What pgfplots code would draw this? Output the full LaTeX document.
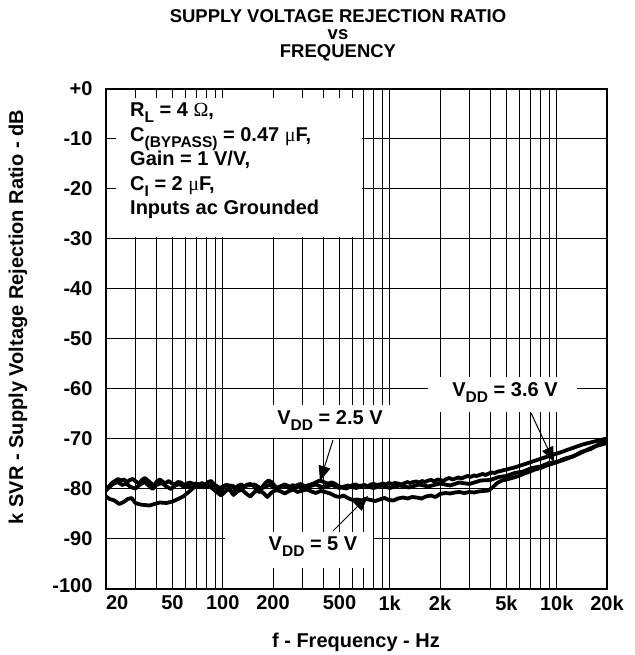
\documentclass[border=0pt]{standalone}
\usepackage{fontspec}
\setmainfont{Liberation Sans}
\newfontfamily\symserif{Liberation Serif}
\usepackage{pgfplots}
\pgfplotsset{compat=1.18}
\usetikzlibrary{arrows.meta}
\newcommand\sub[1]{\raisebox{-0.3em}{\fontsize{15.5}{15.5}\selectfont\bfseries #1}}
\newcommand\bigfont{\fontsize{20}{24.5}\selectfont\bfseries}
\newcommand\titlefont{\fontsize{18.5}{20}\selectfont\bfseries}
\begin{document}
\begin{tikzpicture}[x=1pt,y=1pt]
\begin{axis}[
  at={(106pt,66pt)}, anchor=south west,
  scale only axis, width=501pt, height=500pt,
  xmode=log, xmin=20, xmax=20000, ymin=-100, ymax=0,
  xtick={20,50,100,200,500,1000,2000,5000,10000,20000},
  xticklabels={\hphantom{20}20,50,100,200,500,1k,2k,5k,10k,20k},
  minor xtick={30,40,60,70,80,90,300,400,600,700,800,900,3000,4000,6000,7000,8000,9000},
  ytick={-100,-90,-80,-70,-60,-50,-40,-30,-20,-10,0},
  yticklabels={\raisebox{6pt}{-100},-90,-80,-70,-60,-50,-40,-30,-20,-10,\raisebox{-7pt}{+0}},
  grid=both,
  major grid style={black, line width=1pt},
  minor grid style={black, line width=1pt},
  tick align=inside, major tick length=10pt, minor tick length=10pt,
  tick style={black, line width=1pt},
  axis line style={line width=2.2pt},
  ticklabel style={font=\bigfont},
  yticklabel style={xshift=-10pt},
  xticklabel style={yshift=-3pt},
]
% curve A
\addplot[black, line width=3.8pt, line join=round] coordinates {
(20,-81.5) (21,-82) (22.5,-82.3) (24,-83) (25.5,-82.6) (27,-82) (28.5,-81.8) (30,-82.8) (32,-83.1) (34,-83.2) (36.5,-83.3) (39,-83) (42,-82.7) (46,-82.8) (50,-82.5) (54,-82) (58,-81.5) (63,-80.5) (68,-79.5) (73,-79.2) (80,-79.6) (88,-79) (96,-79.8) (105,-79.2) (115,-79.4) (125,-80) (140,-79.3) (155,-79.1) (170,-79.9) (190,-79.2) (210,-79.8) (235,-79.1) (260,-79.7) (290,-79.0) (320,-79.6) (360,-79.1) (400,-79.7) (450,-79.2) (500,-79.8) (560,-79.3) (630,-79.8) (700,-79.3) (800,-79.8) (900,-79.3) (1000,-79.8) (1150,-79.3) (1300,-79.7) (1500,-79.1) (1700,-79.5) (2000,-78.9) (2300,-79.3) (2600,-78.7) (3000,-79.0) (3500,-78.3) (4000,-78.2) (4500,-77.6) (5000,-77.4) (5600,-76.8) (6300,-76.5) (7100,-75.8) (8000,-75.5) (9000,-74.8) (10000,-74.6) (11200,-73.9) (12500,-73.5) (14000,-72.6) (16000,-72.0) (18000,-71) (20000,-70.5)
};
% curve B
\addplot[black, line width=3.8pt, line join=round] coordinates {
(20,-80) (20.8,-79.5) (21.7,-78.8) (22.6,-78.4) (23.6,-78) (24.6,-78.3) (25.6,-78.1) (26.7,-78.6) (27.8,-78.2) (29,-78) (30.2,-78.5) (31.5,-78.9) (32.8,-78.2) (34.2,-77.8) (35.6,-78.3) (37.1,-78.8) (38.7,-79.4) (40.3,-78.5) (42,-78.1) (43.8,-78.6) (45.7,-78.8) (47.6,-78.4) (49.6,-78.9) (51.7,-79.1) (53.9,-78.6) (56.2,-78.7) (58.6,-79.2) (61.1,-78.9) (63.7,-78.7) (66.4,-79) (69.2,-78.9) (72.1,-79.1) (75.2,-78.8) (78.4,-79.2) (81.7,-78.6) (85.2,-78.4) (88.8,-79.1) (92.6,-80.1) (96.5,-80.9) (100.6,-79.6) (104.9,-79.2) (109.3,-79.7) (114,-80.9) (118.8,-80.2) (123.9,-79.3) (129.1,-79.1) (134.6,-79.5) (140.3,-79.1) (146.3,-79) (152.5,-79.3) (159,-80.2) (165.7,-80.6) (172.7,-79.6) (180,-78.8) (187.7,-78.3) (195.7,-78.6) (204,-79.3) (212.6,-79.9) (221.7,-79.5) (231,-79.3) (240.9,-79.6) (251,-79.8) (262,-79.2) (273,-79.5) (284,-79.4) (296,-79.8) (309,-79.5) (322,-79.3) (336,-79.1) (350,-78.9) (365,-78.6) (380,-78.3) (396,-78.5) (413,-78.8) (430,-78.9) (448,-78.7) (467,-78.9) (487,-79.3) (508,-79.6) (530,-79.8) (552,-79.9) (575,-79.5) (600,-79.2) (625,-79.1) (652,-79.4) (680,-79.3) (708,-79.2) (738,-79.5) (770,-79.1) (802,-79) (836,-79.2) (872,-79.1) (909,-78.9) (948,-79.1) (988,-78.8) (1030,-79) (1074,-78.8) (1120,-78.9) (1168,-79.1) (1217,-78.9) (1269,-78.6) (1323,-78.8) (1380,-78.6) (1439,-78.5) (1500,-78.7) (1564,-78.4) (1630,-78.6) (1700,-78.3) (1773,-78.2) (1848,-78.5) (1927,-78.1) (2009,-78.2) (2095,-78.4) (2184,-78) (2277,-77.8) (2374,-78.1) (2475,-77.9) (2581,-77.7) (2691,-77.9) (2805,-77.6) (2925,-77.4) (3049,-77.6) (3179,-77.3) (3315,-77.4) (3456,-77.2) (3603,-77) (3757,-77.2) (3917,-76.9) (4084,-76.7) (4258,-76.8) (4440,-76.5) (4629,-76.4) (4826,-76.2) (5032,-76.1) (5246,-75.9) (5470,-75.8) (5703,-75.6) (5946,-75.4) (6199,-75.2) (6463,-75) (6739,-74.8) (7026,-74.6) (7325,-74.4) (7637,-74.2) (7963,-74) (8302,-73.8) (8656,-73.6) (9025,-73.4) (9409,-73.2) (9810,-73) (10500,-72.7) (11300,-72.3) (12200,-71.9) (13200,-71.5) (14300,-71.1) (15500,-70.8) (16800,-70.5) (18300,-70.2) (20000,-69.9)
};
% curve C
\addplot[black, line width=3.8pt, line join=round] coordinates {
(20,-80.3) (21,-79.6) (22,-79) (23.5,-78.6) (25,-79.2) (26.5,-78.9) (28,-79.6) (30,-79.9) (32,-79.1) (34,-78.6) (36,-79.3) (38,-80) (40,-79.2) (43,-78.8) (46,-79.5) (49,-80) (52,-79.3) (55,-79) (58,-79.5) (62,-79.4) (66,-79.8) (70,-79.3) (75,-79.6) (80,-79.2) (86,-79.8) (92,-80.6) (98,-81.3) (104,-80.4) (110,-80) (116,-81.2) (122,-80.5) (130,-80.1) (138,-80.9) (146,-81.5) (155,-80.6) (165,-80.2) (175,-80.8) (185,-81.6) (196,-80.7) (208,-80.2) (220,-80.4) (235,-80.9) (250,-80.4) (265,-80.1) (280,-80.6) (300,-80.3) (320,-80.1) (340,-80.5) (360,-80.8) (385,-80.4) (410,-80.6) (440,-80.9) (470,-81.4) (500,-81.6) (530,-81.3) (560,-81.8) (600,-82.2) (640,-82.1) (680,-82.3) (720,-82) (770,-82.2) (820,-82.4) (870,-82.1) (930,-81.8) (990,-82.2) (1050,-82.3) (1120,-81.9) (1200,-81.7) (1280,-81.9) (1360,-81.6) (1450,-81.7) (1550,-81.9) (1650,-81.5) (1760,-81.3) (1880,-81.6) (2000,-81) (2150,-80.8) (2300,-80.9) (2450,-80.7) (2600,-80.6) (2800,-80.8) (3000,-80.6) (3200,-80.7) (3400,-80.5) (3650,-80.4) (3900,-80.3) (4150,-79.6) (4400,-78.8) (4700,-78.3) (5000,-78.1) (5400,-77.8) (5800,-77.5) (6300,-77) (6800,-76.6) (7400,-76.1) (8000,-75.8) (8700,-75.3) (9500,-74.9) (10300,-74.5) (11200,-74.1) (12200,-73.6) (13300,-73.1) (14500,-72.5) (15800,-71.9) (17200,-71.4) (18600,-71.1) (20000,-70.8)
};
\end{axis}
% conditions box
\fill[white] (116,418) rectangle (362,557);
\node[anchor=west, align=left, inner sep=0pt, font=\bigfont] at (130,494)
 {R\sub{L} = 4 {\symserif\mdseries Ω},\\
  C\sub{(BYPASS)} = 0.47 {\symserif\mdseries μ}F,\\
  Gain = 1 V/V,\\
  C\sub{I} = 2 {\symserif\mdseries μ}F,\\
  Inputs ac Grounded};
% VDD labels
\fill[white] (228,217) rectangle (392,250);
\node[font=\bigfont, inner sep=0pt] at (330,234) {V\sub{DD} = 2.5 V};
\fill[white] (428,243) rectangle (577,278);
\node[font=\bigfont, inner sep=0pt] at (505,262) {V\sub{DD} = 3.6 V};
\fill[white] (225,87) rectangle (373,123);
\node[font=\bigfont, inner sep=0pt] at (313,108) {V\sub{DD} = 5 V};
\draw[line width=1pt, -{Triangle[length=15pt,width=12pt]}] (333,215) -- (320,174);
\draw[line width=1pt, -{Triangle[length=15pt,width=12pt]}] (333,124) -- (368,159);
\draw[line width=1pt, -{Triangle[length=15pt,width=12pt]}] (531,242) -- (554,193);
% title
\node[font=\titlefont, anchor=base, inner sep=0pt] at (338,632) {SUPPLY VOLTAGE REJECTION RATIO};
\node[font=\titlefont, anchor=base, inner sep=0pt] at (338,615) {vs};
\node[font=\titlefont, anchor=base, inner sep=0pt] at (338,597) {FREQUENCY};
\node[font=\bigfont, anchor=base, inner sep=0pt] at (356,8) {f - Frequency - Hz};
\node[font=\bigfont, rotate=90, inner sep=0pt] at (18,338) {k SVR - Supply Voltage Rejection Ratio - dB};
\pgfresetboundingbox
\path[use as bounding box] (0,0) rectangle (634,655);
\end{tikzpicture}
\end{document}
